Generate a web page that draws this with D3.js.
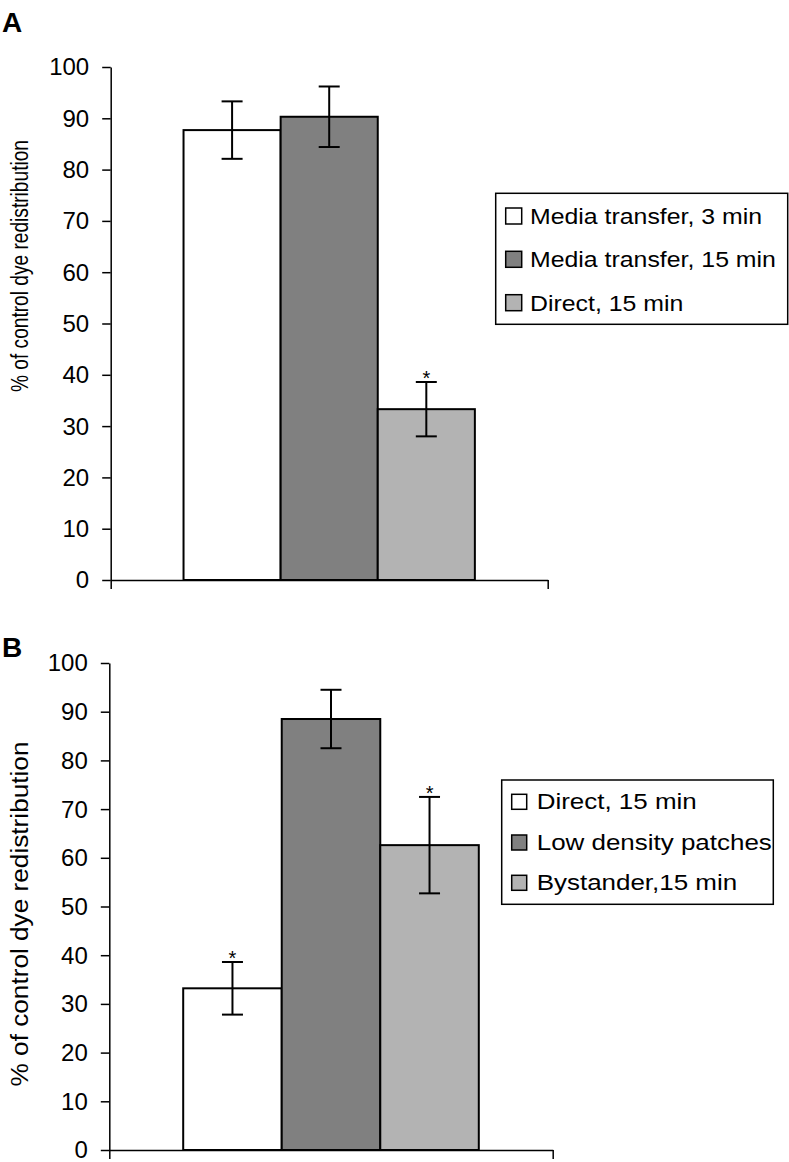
<!DOCTYPE html>
<html>
<head>
<meta charset="utf-8">
<script src="https://cdn.jsdelivr.net/npm/d3@7"></script>
<style>
  html, body { margin: 0; padding: 0; background: #fff; }
  svg { display: block; }
  text { font-family: "Liberation Sans", Arial, Helvetica, sans-serif; fill: #000; }
</style>
</head>
<body>
<svg id="chart" width="789" height="1162"></svg>
<script>
// ---------- data ----------
const panelLabels = ["A", "B"];
const yTicks = [0, 10, 20, 30, 40, 50, 60, 70, 80, 90, 100];
const yAxisTitle = "% of control dye redistribution";

const seriesA = ["Media transfer, 3 min", "Media transfer, 15 min", "Direct, 15 min"];
const valuesA = [87.7, 90.3, 33.3];
const errorsA = [5.6, 5.9, 5.3];
const starsA  = [false, false, true];

const seriesB = ["Direct, 15 min", "Low density patches", "Bystander,15 min"];
const valuesB = [33.2, 88.5, 62.6];
const errorsB = [5.4, 6.0, 9.9];
const starsB  = [true, false, true];

const fillColors = ["#ffffff", "#808080", "#b3b3b3"];

// ---------- layout (positions & styles only) ----------
const panels = [
  { label: panelLabels[0], series: seriesA, values: valuesA, errors: errorsA, stars: starsA,
    x0: 110.7, x1: 547.7, yTop: 67, yBot: 580, labelY: 32, titleCenter: 266, titleLen: 252,
    legend: { x: 495.7, y: 193.3, w: 292, h: 131, textX: 530, swX: 505.7, sw: 16,
              rows: [224, 267.3, 310.7], sx: 1.13 } },
  { label: panelLabels[1], series: seriesB, values: valuesB, errors: errorsB, stars: starsB,
    x0: 109.3, x1: 552.7, yTop: 663, yBot: 1150, labelY: 657, titleCenter: 914, titleLen: 345,
    legend: { x: 501.7, y: 780, w: 271.6, h: 124.3, textX: 536.7, swX: 511.7, sw: 15,
              rows: [809.3, 850, 890.3], sx: 1.18 } }
];

const svg = d3.select("#chart");

panels.forEach(p => {
  const g = svg.append("g");

  const y = d3.scaleLinear().domain([0, 100]).range([p.yBot, p.yTop]);
  const x = d3.scaleBand().domain(p.series).range([p.x0, p.x1])
              .paddingInner(0).paddingOuter(0.75);

  // panel letter
  g.append("text").attr("x", 2).attr("y", p.labelY)
    .attr("font-size", 28).attr("font-weight", "bold").text(p.label);

  // y axis title
  g.append("text")
    .attr("transform", `translate(28,${p.titleCenter}) rotate(-90)`)
    .attr("text-anchor", "middle")
    .attr("font-size", 23)
    .attr("textLength", p.titleLen)
    .attr("lengthAdjust", "spacingAndGlyphs")
    .text(yAxisTitle);

  // bars
  p.series.forEach((s, i) => {
    g.append("rect")
      .attr("x", x(s)).attr("y", y(p.values[i]))
      .attr("width", x.bandwidth()).attr("height", y(0) - y(p.values[i]))
      .attr("fill", fillColors[i]).attr("stroke", "#000").attr("stroke-width", 2);
  });

  // error bars
  const cap = 10.5;
  p.series.forEach((s, i) => {
    const cx = x(s) + x.bandwidth() / 2;
    const hi = y(p.values[i] + p.errors[i]);
    const lo = y(p.values[i] - p.errors[i]);
    const eg = g.append("g").attr("stroke", "#000").attr("stroke-width", 2);
    eg.append("line").attr("x1", cx).attr("x2", cx).attr("y1", hi).attr("y2", lo);
    eg.append("line").attr("x1", cx - cap).attr("x2", cx + cap).attr("y1", hi).attr("y2", hi);
    eg.append("line").attr("x1", cx - cap).attr("x2", cx + cap).attr("y1", lo).attr("y2", lo);
    if (p.stars[i]) {
      g.append("text").attr("x", cx).attr("y", hi + 3)
        .attr("text-anchor", "middle").attr("font-size", 20).text("*");
    }
  });

  // y axis
  const yAxis = d3.axisLeft(y).tickValues(yTicks).tickSize(8.5).tickSizeOuter(0).tickPadding(13);
  const ya = g.append("g").attr("transform", `translate(${p.x0},0)`).call(yAxis);
  ya.selectAll("path, line").attr("stroke", "#000").attr("stroke-width", 1.5);
  ya.selectAll("text").attr("font-size", 24).attr("dy", "0.33em")
    .style("font-family", '"Liberation Sans", Arial, sans-serif').attr("fill", "#000");

  // x axis (category axis with edge ticks)
  const xl = d3.scaleLinear().domain([0, 1]).range([p.x0, p.x1]);
  const xAxis = d3.axisBottom(xl).tickValues([0, 1]).tickFormat("").tickSize(9).tickSizeOuter(0);
  const xa = g.append("g").attr("transform", `translate(0,${y(0)})`).call(xAxis);
  xa.selectAll("path, line").attr("stroke", "#000").attr("stroke-width", 1.5);

  // legend
  const L = p.legend;
  const lg = g.append("g");
  lg.append("rect").attr("x", L.x).attr("y", L.y).attr("width", L.w).attr("height", L.h)
    .attr("fill", "#fff").attr("stroke", "#000").attr("stroke-width", 1.5);
  p.series.forEach((s, i) => {
    lg.append("rect").attr("x", L.swX).attr("y", L.rows[i] - L.sw)
      .attr("width", L.sw).attr("height", L.sw)
      .attr("fill", fillColors[i]).attr("stroke", "#000").attr("stroke-width", 1.5);
    lg.append("text")
      .attr("transform", `translate(${L.textX},${L.rows[i]}) scale(${L.sx},1)`)
      .attr("font-size", 22).text(s);
  });
});
</script>
</body>
</html>
